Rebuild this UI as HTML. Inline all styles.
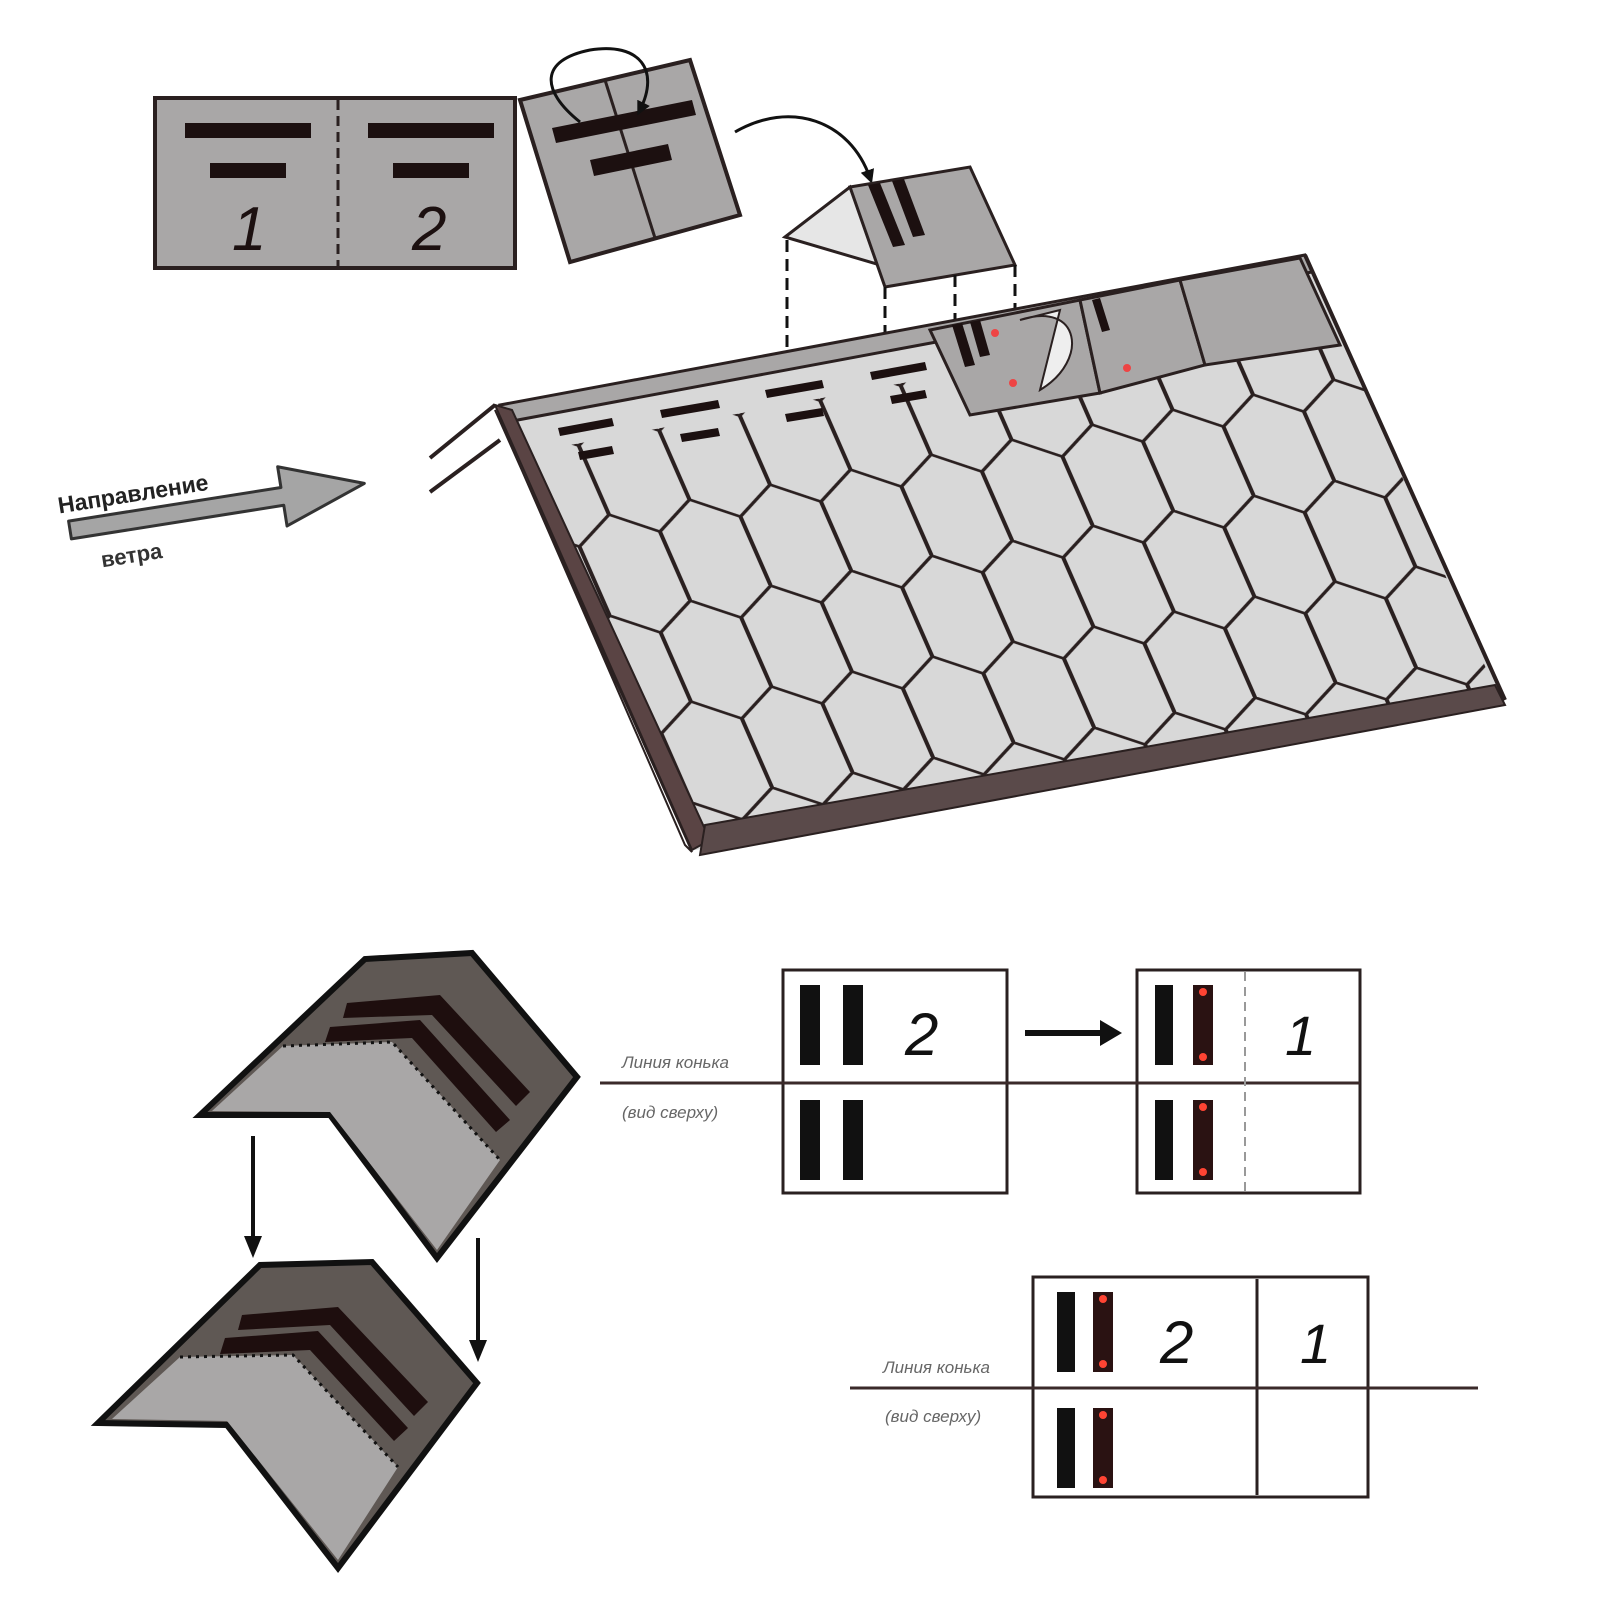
<!DOCTYPE html>
<html><head><meta charset="utf-8"><style>html,body{margin:0;padding:0;background:#fff}svg{display:block}</style></head>
<body>
<svg width="1600" height="1600" viewBox="0 0 1600 1600" xmlns="http://www.w3.org/2000/svg" font-family="Liberation Sans, sans-serif">
<defs>
<pattern id="hex" width="100" height="420" patternUnits="userSpaceOnUse" x="-30" y="60">
<path d="M0,55 L50,0 L100,55 M0,55 V210 M100,55 V210 M0,210 L50,265 L100,210 M50,265 V420" fill="none" stroke="#2a2020" stroke-width="5"/>
</pattern>
<clipPath id="roofclip"><polygon points="0,110 1000,110 1000,1000 0,1000"/></clipPath>
<marker id="ah" markerWidth="14" markerHeight="14" refX="8" refY="7" orient="auto" markerUnits="userSpaceOnUse"><path d="M0,0 L14,7 L0,14 z" fill="#111"/></marker>
</defs>

<!-- top-left folded box -->
<rect x="155" y="98" width="360" height="170" fill="#a9a7a7" stroke="#2a2020" stroke-width="4"/>
<line x1="338" y1="100" x2="338" y2="266" stroke="#2a2020" stroke-width="3" stroke-dasharray="10,6"/>
<rect x="185" y="123" width="126" height="15" fill="#1c1010"/>
<rect x="210" y="163" width="76" height="15" fill="#1c1010"/>
<rect x="368" y="123" width="126" height="15" fill="#1c1010"/>
<rect x="393" y="163" width="76" height="15" fill="#1c1010"/>
<text x="232" y="250" font-size="62" font-style="italic" fill="#1c1010">1</text>
<text x="412" y="250" font-size="62" font-style="italic" fill="#1c1010">2</text>

<!-- rotated square -->
<polygon points="520,100 690,60 740,215 570,262" fill="#a9a7a7" stroke="#2a2020" stroke-width="4"/>
<line x1="605" y1="80" x2="655" y2="238" stroke="#2a2020" stroke-width="3"/>
<polygon points="552,128 692,100 696,115 556,143" fill="#1c1010"/>
<polygon points="590,160 668,144 672,160 594,176" fill="#1c1010"/>
<path d="M580,122 C540,90 540,60 590,50 C640,42 660,70 640,110" fill="none" stroke="#111" stroke-width="3" marker-end="url(#ah)"/>
<path d="M735,132 C790,100 850,120 870,178" fill="none" stroke="#111" stroke-width="3" marker-end="url(#ah)"/>

<!-- ridge piece -->
<polygon points="785,237 850,187 880,265" fill="#e6e6e6" stroke="#2a2020" stroke-width="3"/>
<polygon points="850,187 970,167 1015,265 885,287" fill="#a9a7a7" stroke="#2a2020" stroke-width="3"/>
<polygon points="868,185 880,183 905,245 893,247" fill="#1c1010"/>
<polygon points="892,181 904,179 925,235 913,237" fill="#1c1010"/>
<g stroke="#111" stroke-width="3" stroke-dasharray="12,7" fill="none">
<line x1="787" y1="240" x2="787" y2="360"/>
<line x1="885" y1="287" x2="885" y2="425"/>
<line x1="955" y1="275" x2="955" y2="330"/>
<line x1="1015" y1="265" x2="1015" y2="400"/>
</g>

<!-- roof -->
<polygon points="500,405 1305,255 1505,700 695,850" fill="#d8d8d8"/>
<g transform="matrix(0.805,-0.15,0.195,0.445,500,405)">
<rect x="0" y="110" width="1000" height="890" fill="url(#hex)" clip-path="url(#roofclip)"/>
</g>
<!-- top band -->
<polygon points="500,405 1305,255 1312,272 507,422" fill="#a9a7a7" stroke="#2a2020" stroke-width="3"/>
<!-- top strip tiles -->
<polygon points="930,330 1080,300 1100,393 970,415" fill="#a9a7a7" stroke="#2a2020" stroke-width="3"/>
<path d="M1020,320 C1080,300 1090,360 1040,390 L1060,310 Z" fill="#eee" stroke="#2a2020" stroke-width="2"/>
<polygon points="1080,300 1180,280 1205,365 1100,393" fill="#a9a7a7" stroke="#2a2020" stroke-width="3"/>
<polygon points="1180,280 1300,258 1340,345 1205,365" fill="#a9a7a7" stroke="#2a2020" stroke-width="3"/>
<polygon points="952,325 962,323 975,365 965,367" fill="#1c1010"/>
<polygon points="970,322 980,320 990,355 980,357" fill="#1c1010"/>
<polygon points="1092,300 1100,298 1110,330 1102,332" fill="#1c1010"/>
<circle cx="995" cy="333" r="4" fill="#e44"/><circle cx="1013" cy="383" r="4" fill="#e44"/><circle cx="1127" cy="368" r="4" fill="#e44"/>
<g fill="#1c1010">
<polygon points="558,428 612,418 614,426 560,436"/><polygon points="578,452 612,446 614,454 580,460"/>
<polygon points="660,410 718,400 720,408 662,418"/><polygon points="680,434 718,428 720,436 682,442"/>
<polygon points="765,390 822,380 824,388 767,398"/><polygon points="785,414 822,408 824,416 787,422"/>
<polygon points="870,372 925,362 927,370 872,380"/><polygon points="890,396 925,390 927,398 892,404"/>
</g>
<!-- roof edges -->
<line x1="1305" y1="255" x2="1505" y2="700" stroke="#2a2020" stroke-width="4"/>
<polygon points="495,405 512,410 710,840 692,850" fill="#5a4444" stroke="#2a2020" stroke-width="2"/>
<polygon points="495,410 500,420 685,845 692,852" fill="#fff" stroke="#2a2020" stroke-width="2"/>
<polygon points="705,825 1495,685 1505,705 700,855" fill="#5a4a4a" stroke="#2a2020" stroke-width="2"/>
<line x1="430" y1="458" x2="495" y2="405" stroke="#2a2020" stroke-width="4"/>
<line x1="430" y1="492" x2="500" y2="440" stroke="#2a2020" stroke-width="4"/>

<!-- wind arrow -->
<g transform="rotate(-9 70 530)">
<polygon points="70,521 285,521 285,500 368,530 285,560 285,539 70,539" fill="#a5a5a5" stroke="#333" stroke-width="3" stroke-linejoin="round"/>
<text x="62" y="512" font-size="23" font-weight="bold" fill="#222">Направление</text>
<text x="96" y="572" font-size="22" font-weight="bold" fill="#333">ветра</text>
</g>

<!-- bottom-left ridge cap 1 -->
<polygon points="200,1115 365,959 472,953 577,1077 437,1258 330,1115" fill="#5f5854" stroke="#111" stroke-width="6"/>
<polygon points="212,1111 283,1046 392,1042 500,1160 437,1250 330,1112" fill="#a9a7a7"/>
<polygon points="347,1003 440,995 530,1092 516,1106 432,1015 343,1018" fill="#1e0e0e"/>
<polygon points="330,1027 420,1020 510,1120 496,1132 412,1038 325,1042" fill="#1e0e0e"/>
<path d="M283,1046 L392,1042 L500,1160" fill="none" stroke="#111" stroke-width="3" stroke-dasharray="3,5"/>
<line x1="253" y1="1136" x2="253" y2="1240" stroke="#111" stroke-width="4"/>
<polygon points="244,1236 262,1236 253,1258" fill="#111"/>
<line x1="478" y1="1238" x2="478" y2="1342" stroke="#111" stroke-width="4"/>
<polygon points="469,1340 487,1340 478,1362" fill="#111"/>

<!-- bottom-left ridge cap 2 -->
<polygon points="98,1423 260,1265 372,1262 477,1383 338,1568 227,1425" fill="#5f5854" stroke="#111" stroke-width="6"/>
<polygon points="112,1419 180,1357 293,1355 398,1467 338,1560 227,1421" fill="#a9a7a7"/>
<polygon points="242,1315 338,1307 428,1402 414,1416 330,1325 238,1330" fill="#1e0e0e"/>
<polygon points="225,1338 318,1331 408,1428 394,1441 310,1350 220,1354" fill="#1e0e0e"/>
<path d="M180,1357 L293,1355 L398,1467" fill="none" stroke="#111" stroke-width="3" stroke-dasharray="3,5"/>

<!-- tables -->
<g stroke="#2a2020" stroke-width="3" fill="#fff">
<rect x="783" y="970" width="224" height="223"/>
<rect x="1137" y="970" width="223" height="223"/>
<rect x="1033" y="1277" width="335" height="220"/>
</g>
<line x1="600" y1="1083" x2="1360" y2="1083" stroke="#3a2a2a" stroke-width="3"/>
<line x1="1245" y1="972" x2="1245" y2="1191" stroke="#999" stroke-width="2" stroke-dasharray="9,6"/>
<line x1="1025" y1="1033" x2="1105" y2="1033" stroke="#111" stroke-width="6"/>
<polygon points="1100,1020 1122,1033 1100,1046" fill="#111"/>
<g fill="#111">
<rect x="800" y="985" width="20" height="80"/><rect x="843" y="985" width="20" height="80"/>
<rect x="800" y="1100" width="20" height="80"/><rect x="843" y="1100" width="20" height="80"/>
<rect x="1155" y="985" width="18" height="80"/><rect x="1155" y="1100" width="18" height="80"/>
<rect x="1057" y="1292" width="18" height="80"/><rect x="1057" y="1408" width="18" height="80"/>
</g>
<g fill="#2a1212">
<rect x="1193" y="985" width="20" height="80"/><rect x="1193" y="1100" width="20" height="80"/>
<rect x="1093" y="1292" width="20" height="80"/><rect x="1093" y="1408" width="20" height="80"/>
</g>
<g fill="#ff4433">
<circle cx="1203" cy="992" r="4"/><circle cx="1203" cy="1057" r="4"/>
<circle cx="1203" cy="1107" r="4"/><circle cx="1203" cy="1172" r="4"/>
<circle cx="1103" cy="1299" r="4"/><circle cx="1103" cy="1364" r="4"/>
<circle cx="1103" cy="1415" r="4"/><circle cx="1103" cy="1480" r="4"/>
</g>
<text x="905" y="1055" font-size="60" font-style="italic" fill="#111">2</text>
<text x="1285" y="1055" font-size="56" font-style="italic" fill="#111">1</text>
<line x1="1257" y1="1279" x2="1257" y2="1495" stroke="#2a2020" stroke-width="3"/>
<line x1="850" y1="1388" x2="1478" y2="1388" stroke="#3a2a2a" stroke-width="3"/>
<text x="1160" y="1363" font-size="60" font-style="italic" fill="#111">2</text>
<text x="1300" y="1363" font-size="56" font-style="italic" fill="#111">1</text>
<g font-size="17" font-style="italic" fill="#666">
<text x="622" y="1068">Линия конька</text>
<text x="622" y="1118">(вид сверху)</text>
<text x="883" y="1373">Линия конька</text>
<text x="885" y="1422">(вид сверху)</text>
</g>
</svg>
</body></html>
